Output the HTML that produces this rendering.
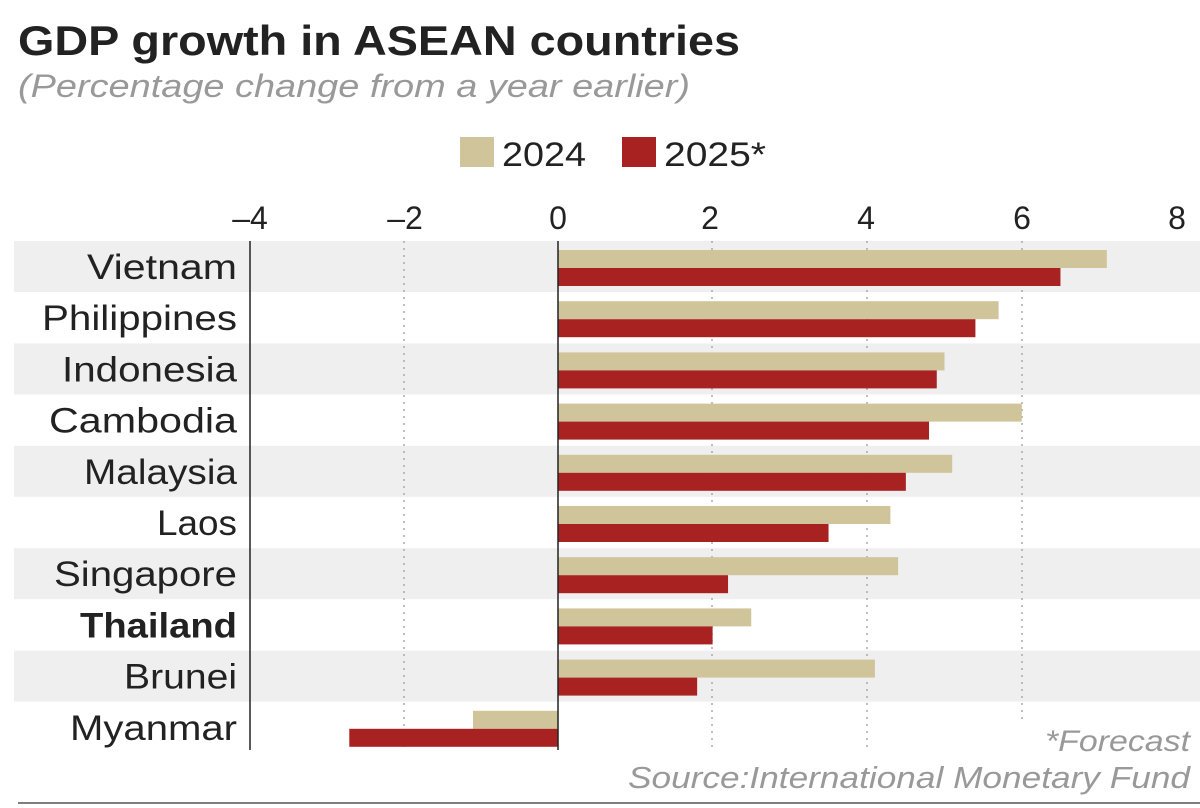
<!DOCTYPE html>
<html><head><meta charset="utf-8"><style>
body{margin:0;background:#fff;width:1200px;height:808px;overflow:hidden}
svg{display:block}
text{font-family:"Liberation Sans",sans-serif}
</style></head><body>
<svg width="1200" height="808" viewBox="0 0 1200 808">
<text x="18" y="55" font-size="42" font-weight="bold" fill="#222" textLength="722" lengthAdjust="spacingAndGlyphs">GDP growth in ASEAN countries</text>
<text x="18" y="97" font-size="32" font-style="italic" fill="#999" textLength="672" lengthAdjust="spacingAndGlyphs">(Percentage change from a year earlier)</text>
<rect x="460" y="137" width="34" height="30" fill="#cfc49a"/>
<text x="502" y="166" font-size="34" fill="#222" textLength="84" lengthAdjust="spacingAndGlyphs">2024</text>
<rect x="622" y="137" width="34" height="30" fill="#a82222"/>
<text x="664" y="166" font-size="34" fill="#222" textLength="102" lengthAdjust="spacingAndGlyphs">2025*</text>
<g font-size="32" fill="#222" text-anchor="middle">
<text x="250" y="229">–4</text><text x="405" y="229">–2</text><text x="558" y="229">0</text>
<text x="710" y="229">2</text><text x="866" y="229">4</text><text x="1022" y="229">6</text><text x="1177" y="229">8</text>
</g>
<g fill="#efefef">
<rect x="14" y="241" width="1186" height="51"/>
<rect x="14" y="343.4" width="1186" height="51"/>
<rect x="14" y="445.8" width="1186" height="51"/>
<rect x="14" y="548.2" width="1186" height="51"/>
<rect x="14" y="650.6" width="1186" height="51"/>
</g>
<g stroke="#aaa" stroke-width="1.5" stroke-dasharray="2,5">
<line x1="404" y1="241" x2="404" y2="750"/>
<line x1="712" y1="241" x2="712" y2="750"/>
<line x1="867" y1="241" x2="867" y2="750"/>
<line x1="1022" y1="241" x2="1022" y2="720"/>
</g>
<line x1="250" y1="241" x2="250" y2="750" stroke="#222" stroke-width="1.5"/>
<g id="bars"></g>
<line x1="558" y1="241" x2="558" y2="750" stroke="#222" stroke-width="1.5"/>
<g font-size="35" fill="#222" text-anchor="end" id="labels"></g>
<text x="1190" y="751" font-size="30" font-style="italic" fill="#999" text-anchor="end" textLength="145" lengthAdjust="spacingAndGlyphs">*Forecast</text>
<text x="1190" y="788" font-size="31" font-style="italic" fill="#999" text-anchor="end" textLength="562" lengthAdjust="spacingAndGlyphs">Source:International Monetary Fund</text>
<line x1="18" y1="803" x2="1200" y2="803" stroke="#555" stroke-width="1.5"/>
<script>
var d=[["Vietnam",7.1,6.5,150],["Philippines",5.7,5.4,195],["Indonesia",5.0,4.9,175],["Cambodia",6.0,4.8,188],["Malaysia",5.1,4.5,153],["Laos",4.3,3.5,80],["Singapore",4.4,2.2,183],["Thailand",2.5,2.0,157],["Brunei",4.1,1.8,113],["Myanmar",-1.1,-2.7,167]];
var ns="http://www.w3.org/2000/svg",b=document.getElementById("bars"),l=document.getElementById("labels");
function r(v,y,c){var x0=558,x1=558+v*77.3,e=document.createElementNS(ns,"rect");e.setAttribute("x",Math.min(x0,x1));e.setAttribute("width",Math.abs(x1-x0));e.setAttribute("y",y);e.setAttribute("height",18);e.setAttribute("fill",c);b.appendChild(e);}
d.forEach(function(r0,i){var t=241+i*51.2;r(r0[1],t+9,"#cfc49a");r(r0[2],t+27,"#a82222");
var tx=document.createElementNS(ns,"text");tx.setAttribute("x",237);tx.setAttribute("y",t+38);tx.setAttribute("textLength",r0[3]);tx.setAttribute("lengthAdjust","spacingAndGlyphs");tx.textContent=r0[0];if(r0[0]=="Thailand")tx.setAttribute("font-weight","bold");l.appendChild(tx);});
</script>
</svg>
</body></html>
